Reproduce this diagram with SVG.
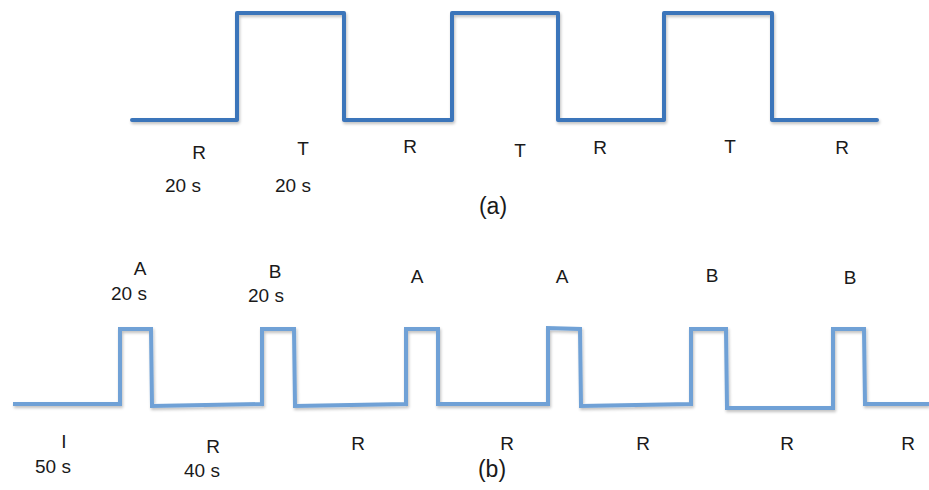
<svg xmlns="http://www.w3.org/2000/svg" width="929" height="490" viewBox="0 0 929 490">
<style>
.wa{fill:none;stroke:#3b74ba;stroke-width:4;stroke-linejoin:round;stroke-linecap:round}
.wb{fill:none;stroke:#6fa1d6;stroke-width:4;stroke-linejoin:miter;stroke-linecap:butt}
.t{font-family:"Liberation Sans",Arial,sans-serif;font-size:19px;fill:#1a1a1a;text-anchor:middle}
.cap{font-family:"Liberation Sans",Arial,sans-serif;font-size:23px;fill:#1a1a1a;text-anchor:middle}
</style>
<defs>
<filter id="sh" x="-5%" y="-20%" width="110%" height="140%">
<feGaussianBlur in="SourceAlpha" stdDeviation="1.5"/>
<feOffset dx="1" dy="2" result="b"/>
<feComponentTransfer><feFuncA type="linear" slope="0.25"/></feComponentTransfer>
<feMerge><feMergeNode/><feMergeNode in="SourceGraphic"/></feMerge>
</filter>
</defs>
<rect width="929" height="490" fill="#ffffff"/>
<g id="waveform-a" filter="url(#sh)">
<polyline class="wa" points="132,120 237,120 237,13 344,13 344,120 452,120 452,13 558,13 558,120 664,120 664,13 772,13 772,120 877,120"/>
</g>
<g id="labels-a">
<text class="t" x="199" y="159">R</text>
<text class="t" x="183" y="192">20 s</text>
<text class="t" x="303" y="155">T</text>
<text class="t" x="293" y="192">20 s</text>
<text class="t" x="410" y="153">R</text>
<text class="t" x="520" y="157">T</text>
<text class="t" x="600" y="154">R</text>
<text class="t" x="730" y="153">T</text>
<text class="t" x="842" y="154">R</text>
<text class="cap" x="493" y="214">(a)</text>
</g>
<g id="waveform-b" filter="url(#sh)">
<polyline class="wb" points="13,404 120,404 120,329 151,329 152,406 262,404 262,329 294,329 295,406 406,404 406,329 438,329 438,404 548,404 548,328 580,329 581,406 691,404 691,329 726,329 727,408 833,408 833,329 864,329 865,404 929,404"/>
</g>
<g id="labels-b">
<text class="t" x="140" y="275">A</text>
<text class="t" x="129" y="300">20 s</text>
<text class="t" x="275" y="278">B</text>
<text class="t" x="266" y="302">20 s</text>
<text class="t" x="417" y="283">A</text>
<text class="t" x="562" y="283">A</text>
<text class="t" x="712" y="282">B</text>
<text class="t" x="850" y="284">B</text>
<text class="t" x="64" y="448">I</text>
<text class="t" x="53" y="473">50 s</text>
<text class="t" x="213" y="453">R</text>
<text class="t" x="202" y="477">40 s</text>
<text class="t" x="358" y="450">R</text>
<text class="t" x="507" y="450">R</text>
<text class="t" x="643" y="450">R</text>
<text class="t" x="787" y="450">R</text>
<text class="t" x="908" y="450">R</text>
<text class="cap" x="492" y="477">(b)</text>
</g>
</svg>
